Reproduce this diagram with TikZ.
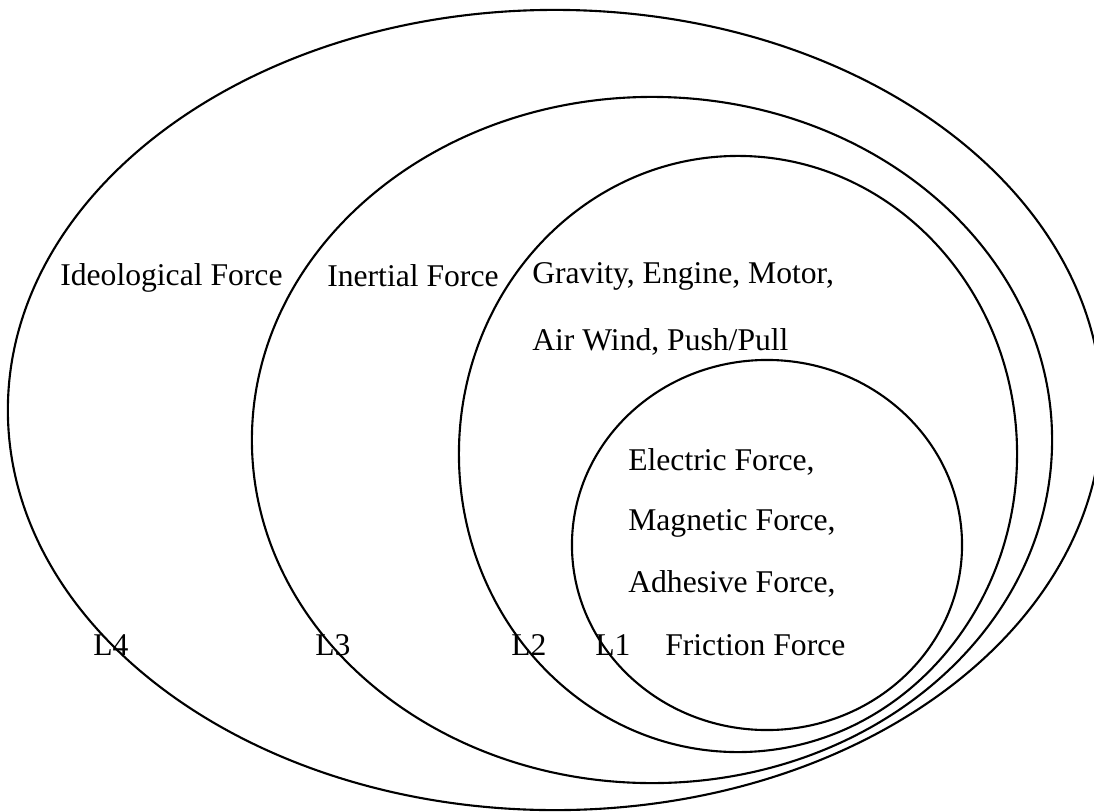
\documentclass[tikz,border=0pt]{standalone}
\usepackage{fontspec}
\setmainfont{Liberation Serif}
\usepackage{tikz}
\usetikzlibrary{shapes.geometric}

\begin{document}
\begin{tikzpicture}[x=0.025cm,y=-0.025cm]
        \tikzset{
        lvl/.style={ellipse, draw=black, line width=1.5pt, inner sep=0pt},
        lbl/.style={anchor=west, inner sep=0pt, font=\fontsize{22.5}{27}\selectfont}
        }
        \useasboundingbox (0,0) rectangle (1094,811);

        \node[lvl, minimum width=27.35cm, minimum height=20cm] (l4) at (555,410) {};
        \node[lvl, minimum width=20cm, minimum height=17.15cm] (l3) at (652,440) {};
        \node[lvl, minimum width=13.95cm, minimum height=14.9cm] (l2) at (738,454) {};
        \node[lvl, minimum width=9.75cm, minimum height=9.25cm] (l1) at (767,545) {};

        \node[lbl] (ideo) at (60,278) {Ideological Force};
        \node[lbl] (inert) at (327,276) {Inertial Force};
        \node[lbl] (grav) at (532,276) {Gravity, Engine, Motor,};
        \node[lbl] (wind) at (532,342) {Air Wind, Push/Pull};

        \node[lbl] (elec) at (628,462) {Electric Force,};
        \node[lbl] (magn) at (628,523) {Magnetic Force,};
        \node[lbl] (adhe) at (628,584) {Adhesive Force,};
        \node[lbl] (fric) at (665,645) {Friction Force};

        \node[lbl] (n4) at (93,645) {L4};
        \node[lbl] (n3) at (315,645) {L3};
        \node[lbl] (n2) at (511,645) {L2};
        \node[lbl] (n1) at (595,645) {L1};
        \end{tikzpicture}
\end{document}
